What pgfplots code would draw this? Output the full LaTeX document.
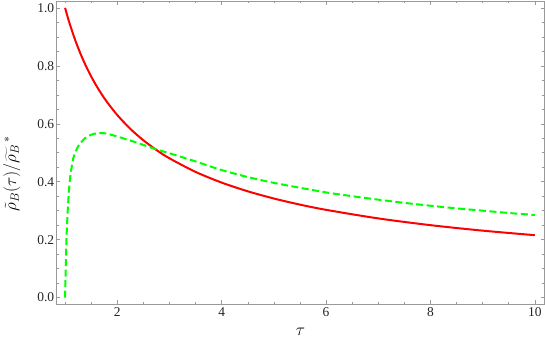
\documentclass[border=0pt]{standalone}
\usepackage{pgfplots}
\pgfplotsset{compat=1.18}
\usepackage{fontspec}
\setmainfont{Liberation Serif}
\definecolor{framegray}{gray}{0.6}
\definecolor{mmared}{rgb}{1,0,0}
\definecolor{mmagreen}{rgb}{0,1,0}

\begin{document}
\begin{tikzpicture}
\begin{axis}[
  width=488bp, height=303bp, scale only axis,
  xmin=0.83, xmax=10.19, ymin=-0.023, ymax=1.024,
  xtick={2,4,6,8,10},
  minor xtick={1,1.5,...,10},
  ytick={0,0.2,0.4,0.6,0.8,1.0},
  minor ytick={0,0.05,...,1.0},
  yticklabel style={/pgf/number format/fixed,/pgf/number format/fixed zerofill,
                    /pgf/number format/precision=1, xshift=1.5bp},
  /pgf/number format/assume math mode=true,
  tick align=inside,
  major tick length=4bp, minor tick length=2.4bp,
  axis line style={framegray, line width=0.6bp},
  every tick/.style={framegray, line width=0.5bp},
  ticklabel style={font=\fontsize{13.5}{15}\selectfont, color=black!85},
  xlabel={$\tau$},
  xlabel style={font=\fontsize{18}{20}\selectfont,
                at={(rel axis cs:0.5,0)}, anchor=center, yshift=-28bp},
  ylabel={$\tilde{\rho}_B(\tau)/\widetilde{\rho_B}^{\,*}$},
  ylabel style={font=\fontsize{18}{22}\selectfont, at={(ticklabel cs:0.43)}},
  ylabel shift=10bp,
  clip=true,
]
% red: solid curve
\addplot[mmared, line width=2bp, smooth] coordinates {
 (1.0,1.0) (1.05,0.968) (1.1,0.9384) (1.2,0.8855) (1.3,0.8395) (1.4,0.7991)
 (1.5,0.7631) (1.6,0.7310) (1.7,0.7021) (1.8,0.6758) (2.0,0.6300) (2.25,0.5824)
 (2.5,0.5429) (2.75,0.5095) (3.0,0.4807) (3.5,0.4338) (4.0,0.3969) (4.5,0.3669)
 (5.0,0.3420) (5.5,0.3209) (6.0,0.3029) (7.0,0.2733) (8.0,0.2500) (9.0,0.2311)
 (10.0,0.2154)
};
% green: dashed curve
\addplot[mmagreen, line width=2bp, dash pattern=on 7bp off 3.5bp, smooth, tension=0.4] coordinates {
 (1.0,0.0) (1.005,0.05) (1.015,0.13) (1.03,0.22) (1.05,0.30) (1.07,0.36)
 (1.1,0.42) (1.16,0.483) (1.25,0.522) (1.38,0.550) (1.5,0.562) (1.6,0.567)
 (1.7,0.568) (1.8,0.566) (2.0,0.556) (2.25,0.542) (2.5,0.527) (2.76,0.511)
 (3.0,0.498) (3.2,0.487) (3.5,0.470) (3.78,0.453) (4.0,0.440) (4.5,0.416)
 (5.0,0.396) (5.5,0.379) (6.0,0.363) (6.5,0.350) (7.0,0.338) (7.5,0.327)
 (8.0,0.317) (8.5,0.308) (9.0,0.300) (9.5,0.292) (10.0,0.285)
};
\end{axis}
\end{tikzpicture}
\end{document}
